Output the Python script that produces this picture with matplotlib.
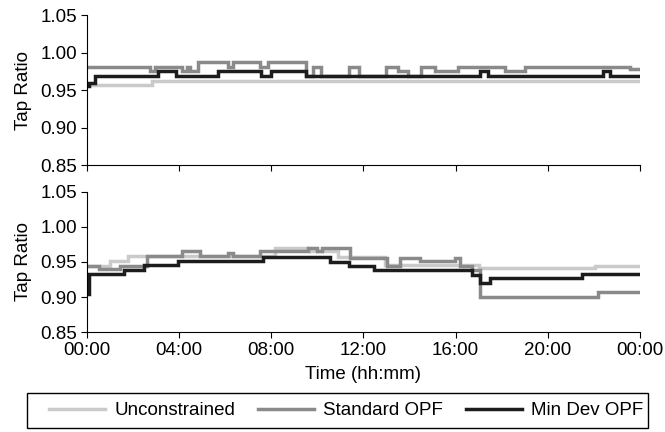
import matplotlib.pyplot as plt
from matplotlib.patches import Rectangle

plt.rcParams['font.family'] = ['Liberation Sans', 'DejaVu Sans']

# time breakpoints (hours) and tap ratio values, step changes
top_unc_t = [0, 2.8, 24]
top_unc_v = [0.95625, 0.9625, 0.9625]

top_std_t = [0, 2.74, 2.95, 4.11, 4.33, 4.45, 4.8, 6.13, 6.35, 7.5, 7.87, 9.52,
             9.82, 10.15, 11.35, 11.8, 12.97, 13.5, 13.95, 14.5, 15.1, 16.1,
             18.15, 19.0, 23.57, 24]
top_std_v = [0.98125, 0.975, 0.98125, 0.975, 0.98125, 0.975, 0.9875, 0.98125,
             0.9875, 0.98125, 0.9875, 0.96875, 0.98125, 0.96875, 0.98125,
             0.96875, 0.98125, 0.975, 0.96875, 0.98125, 0.975, 0.98125, 0.975,
             0.98125, 0.9775, 0.9775]

top_mdv_t = [0, 0.1, 0.35, 3.1, 3.85, 5.68, 7.55, 8.0, 9.52, 17.06, 17.42,
             22.4, 22.7, 24]
top_mdv_v = [0.955, 0.96, 0.96875, 0.975, 0.96875, 0.975, 0.96875, 0.975,
             0.96875, 0.975, 0.96875, 0.975, 0.96875, 0.96875]

bot_unc_t = [0, 1.0, 1.8, 8.16, 9.68, 10.9, 12.94, 17.0, 22.05, 24]
bot_unc_v = [0.9445, 0.952, 0.9585, 0.970, 0.9657, 0.957, 0.9457, 0.941,
             0.9447, 0.9447]

bot_std_t = [0, 0.5, 1.43, 2.62, 4.11, 4.9, 6.13, 6.35, 7.51, 9.61, 9.97,
             10.19, 11.42, 13.0, 13.6, 14.46, 15.98, 16.2, 16.7, 17.07, 22.16, 24]
bot_std_v = [0.9445, 0.940, 0.9447, 0.9585, 0.9657, 0.9585, 0.9624, 0.9585,
             0.9657, 0.970, 0.9657, 0.970, 0.956, 0.9437, 0.9557, 0.951,
             0.9557, 0.944, 0.9387, 0.9007, 0.907, 0.907]

bot_mdv_t = [0, 0.08, 1.62, 2.49, 3.93, 7.65, 10.55, 11.37, 12.47, 16.7,
             17.06, 17.5, 21.47, 24]
bot_mdv_v = [0.905, 0.9325, 0.939, 0.9457, 0.952, 0.9576, 0.950, 0.9447,
             0.9387, 0.9315, 0.9197, 0.9268, 0.9325, 0.9325]

labels = ['Unconstrained', 'Standard OPF', 'Min Dev OPF']
colors = ['#cacaca', '#8a8a8a', '#1c1c1c']
xticks = [0, 4, 8, 12, 16, 20, 24]
xticklabels = ['00:00', '04:00', '08:00', '12:00', '16:00', '20:00', '00:00']
yticks = [0.85, 0.90, 0.95, 1.00, 1.05]
fs = 13.5

fig = plt.figure(figsize=(6.65, 4.32), dpi=100)
ax1 = fig.add_axes([0.1308, 0.618, 0.8316, 0.347])
ax2 = fig.add_axes([0.1308, 0.2308, 0.8316, 0.3255])

top = [(top_unc_t, top_unc_v), (top_std_t, top_std_v), (top_mdv_t, top_mdv_v)]
bot = [(bot_unc_t, bot_unc_v), (bot_std_t, bot_std_v), (bot_mdv_t, bot_mdv_v)]

for ax, series in [(ax1, top), (ax2, bot)]:
    for (t, v), c, lab in zip(series, colors, labels):
        ax.step(t, v, where='post', color=c, lw=2.5, label=lab,
                solid_joinstyle='miter')
    ax.set_xlim(0, 24)
    ax.set_ylim(0.85, 1.05)
    ax.set_xticks(xticks)
    ax.set_yticks(yticks)
    ax.set_yticklabels(['%.2f' % y for y in yticks])
    ax.spines['top'].set_visible(False)
    ax.spines['right'].set_visible(False)
    ax.tick_params(direction='out', length=4, width=0.8, labelsize=fs, pad=3)
    ax.set_ylabel('Tap Ratio', fontsize=fs, labelpad=6)

ax1.set_xticklabels([])
ax2.set_xticklabels(xticklabels)
ax2.set_xlabel('Time (hh:mm)', fontsize=fs, labelpad=5)

# legend entries, with the box drawn around them separately
h, l = ax2.get_legend_handles_labels()
fig.legend(h, l, ncol=3, loc='center', bbox_to_anchor=(346 / 665, 1 - 410.5 / 432),
           fontsize=fs, frameon=False, handlelength=3.0, handletextpad=0.5,
           columnspacing=1.2)
fig.patches.append(Rectangle((27 / 665, 4 / 432), 621 / 665, 35 / 432,
                             transform=fig.transFigure, fill=False,
                             edgecolor='black', lw=1.0))

fig.savefig('out.png', dpi=100)
